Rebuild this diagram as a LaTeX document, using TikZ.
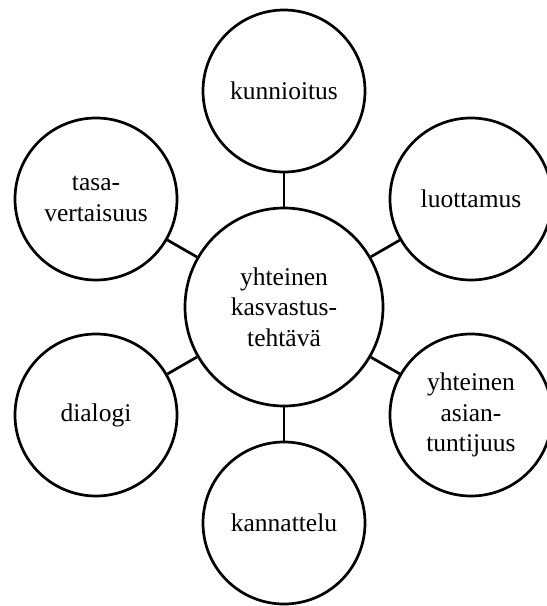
\documentclass[tikz,border=0pt]{standalone}
\usepackage{fontspec}
\setmainfont{Liberation Serif}
\begin{document}
\begin{tikzpicture}[x=1pt,y=-1pt,
  bub/.style={circle,draw,line width=2.7pt,minimum size=162pt,inner sep=0pt,align=center,
    font=\fontsize{25.5}{30.4}\selectfont},
  hub/.style={bub,minimum size=198pt},
  link/.style={line width=2.7pt}]
\useasboundingbox (0,0) rectangle (547,606);
\clip (0,0) rectangle (547,606);
\node[hub] (c) at (284,307) {yhteinen\\kasvastus-\\tehtävä};
\node[bub] (k) at (284,91) {kunnioitus};
\node[bub] (l) at (471,199) {luottamus};
\node[bub] (y) at (471,415) {yhteinen\\asian-\\tuntijuus};
\node[bub] (ka) at (284,523) {kannattelu};
\node[bub] (d) at (96,415) {dialogi};
\node[bub] (t) at (96,199) {tasa-\\vertaisuus};
\foreach \n in {k,l,y,ka,d,t} \draw[link] (c) -- (\n);
\end{tikzpicture}
\end{document}
